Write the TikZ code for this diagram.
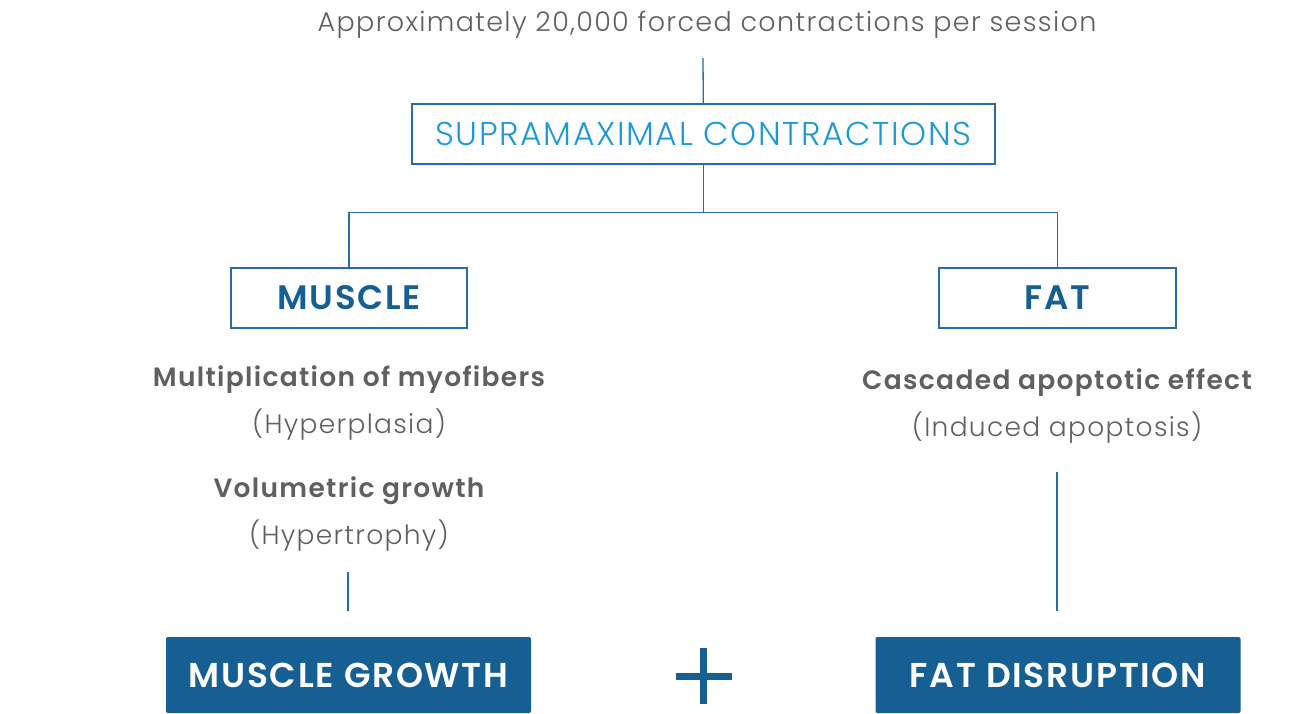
\documentclass[tikz,border=0pt]{standalone}
\usepackage{fontspec}
\setmainfont{Poppins}[UprightFont=* Light, BoldFont=* SemiBold, LetterSpace=5]
\definecolor{darkblue}{HTML}{155F93}
\definecolor{lineblue}{HTML}{2B6C9F}
\definecolor{skyblue}{HTML}{1D9AD6}
\definecolor{textgray}{HTML}{5F6062}

\begin{document}
\begin{tikzpicture}
[
    x=1pt, y=-1pt,
    outline/.style={draw=lineblue, line width=1.3pt, minimum height=60pt, inner sep=0pt},
    result/.style={fill=darkblue, rounded corners=2pt, minimum width=365pt, minimum height=76pt, inner sep=0pt, text=white, font=\fontsize{34.5}{36}\selectfont\bfseries},
    note/.style={text=textgray, font=\fontsize{26.5}{28}\selectfont},
    link/.style={draw=lineblue, line width=1.3pt},
]
\useasboundingbox (0,0) rectangle (1296,713);
\node [note, font=\fontsize{27}{28}\selectfont] (intro) at (707,25) {Approximately 20,000 forced contractions per session};
\coordinate (introend) at (703,58);
\node [outline, minimum width=583pt, text=skyblue, font=\fontsize{33}{34}\selectfont] (sup) at (703.5,134) {SUPRAMAXIMAL CONTRACTIONS};
\node [outline, minimum width=236pt, text=darkblue, font=\fontsize{34}{36}\selectfont\bfseries] (muscle) at (349,298) {MUSCLE};
\node [outline, minimum width=237pt, text=darkblue, font=\fontsize{34}{36}\selectfont\bfseries] (fat) at (1057.5,298) {FAT};
% muscle side
\node [note, font=\fontsize{26.5}{28}\selectfont\bfseries] (hyperplasia) at (349,380) {Multiplication of myofibers};
\node [note] (hyperplasiab) at (349,425) {(Hyperplasia)};
\node [note, font=\fontsize{26.5}{28}\selectfont\bfseries] (hypertrophy) at (349,491) {Volumetric growth};
\node [note] (hypertrophyb) at (349,536) {(Hypertrophy)};
% fat side
\node [note, font=\fontsize{26.5}{28}\selectfont\bfseries] (apoptotic) at (1057,383) {Cascaded apoptotic effect};
\node [note] (apoptoticb) at (1057,428) {(Induced apoptosis)};
\coordinate (musclestart) at (348,572);
\coordinate (muscleend) at (348,611);
\coordinate (fatstart) at (1057,472);
\coordinate (fatend) at (1057,611);
% results
\node [result] (growth) at (348.5,675) {MUSCLE GROWTH};
\node [result] (disruption) at (1058,675) {FAT DISRUPTION};
\coordinate (plus) at (703.5,676);

\draw [link] (introend) -- (sup);
\draw [link] (sup.south) -- ++(0,48) coordinate (split) -| (muscle.north);
\draw [link] (split) -| (fat.north);
\draw [link] (musclestart) -- (muscleend);
\draw [link] (fatstart) -- (fatend);
\draw [darkblue, line width=7pt] ([xshift=-28pt]plus) -- ([xshift=28pt]plus)
    ([yshift=-28pt]plus) -- ([yshift=28pt]plus);
\end{tikzpicture}
\end{document}
